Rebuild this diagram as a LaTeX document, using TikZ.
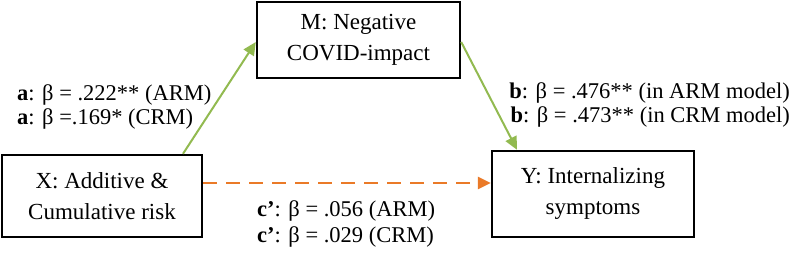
\documentclass[tikz,border=0pt]{standalone}
\usepackage{fontspec}
\setmainfont{Liberation Serif}
\usetikzlibrary{arrows.meta,calc}
\definecolor{pgreen}{RGB}{146,186,80}
\definecolor{porange}{RGB}{234,122,40}
\begin{document}
\begin{tikzpicture}[x=1pt,y=1pt,
  box/.style={draw=black,line width=2.4pt,align=center,inner sep=0pt,font=\fontsize{23}{31}\selectfont},
  lbl/.style={inner sep=0pt,font=\fontsize{22.5}{24}\selectfont},
  garrow/.style={draw=pgreen,line width=2pt,-{Triangle[length=13pt,width=12pt]}},
  oarrow/.style={draw=porange,line width=2.4pt,dash pattern=on 14pt off 9pt,-{Triangle[length=13pt,width=12pt]}}]
\useasboundingbox (0,0) rectangle (799,254);
\node[box,minimum width=203pt,minimum height=76pt] (M) at (358.5,214) {M: Negative\\COVID-impact};
\node[box,minimum width=200pt,minimum height=82pt] (X) at (102,58) {X: Additive \&\\Cumulative risk};
\node[box,minimum width=202pt,minimum height=86pt] (Y) at (593,60) {Y: Internalizing\\symptoms};
\draw[garrow] ($(X.north)+(81,0)$) -- ($(M.west)+(0,-2)$);
\draw[garrow] ($(M.east)+(0,-2)$) -- ($(Y.north)+(-76,0)$);
\coordinate (cs) at ($(X.east)+(0,13)$);
\draw[oarrow] (cs) -- (Y.west |- cs);
\node[lbl,anchor=west,align=left] (la) at (17,147.5) {\textbf{a}: β = .222** (ARM)\\\textbf{a}: β =.169* (CRM)};
\node[lbl,anchor=east,align=right] (lb) at (790,149.5) {\textbf{b}: β = .476** (in ARM model)\\\textbf{b}: β = .473** (in CRM model)};
\node[lbl,anchor=west,align=left,font=\fontsize{22.5}{26}\selectfont] (lc) at (257,30) {\textbf{c’}: β = .056 (ARM)\\\textbf{c’}: β = .029 (CRM)};
\end{tikzpicture}
\end{document}
